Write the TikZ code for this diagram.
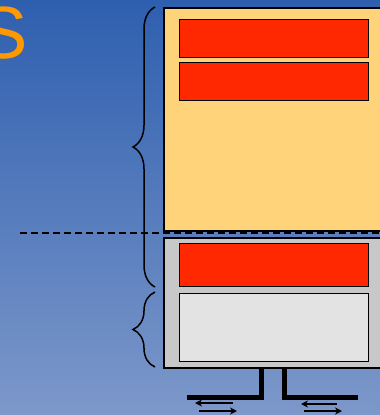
\documentclass[tikz,border=0pt]{standalone}
\usepackage{xcolor}
\usepackage{fontspec}
\newfontfamily\titlefont{Liberation Sans}
\usetikzlibrary{arrows.meta, positioning, calc, decorations.pathreplacing}

\definecolor{bgtop}{HTML}{2E5FAF}
\definecolor{bgbot}{HTML}{7D98CA}
\definecolor{titleorange}{HTML}{FF9900}
\definecolor{memyellow}{HTML}{FFD37A}
\definecolor{memred}{HTML}{FF2800}
\definecolor{memgray}{HTML}{C8C8C8}
\definecolor{memlight}{HTML}{E3E3E3}

\begin{document}
\begin{tikzpicture}[
    x=1pt, y=-1pt,
    region/.style={rectangle, draw=black, line width=1.8pt, anchor=north west, inner sep=0pt},
    slot/.style={rectangle, draw=black, line width=1.3pt, anchor=north west, inner sep=0pt, minimum width=189pt},
    brc/.style={decorate, decoration={brace, amplitude=22pt}, line width=1.5pt},
    pipe/.style={line width=5pt, line cap=butt},
    flow/.style={-{Stealth[length=7pt, width=7pt]}, line width=1.8pt}
]
\useasboundingbox (0,0) rectangle (380,415);
\clip (0,0) rectangle (380,415);
\shade[top color=bgtop, bottom color=bgbot] (0,0) rectangle (380,415);

% title letter
\node[anchor=base east, inner sep=0pt, text=titleorange, font=\titlefont\fontsize{74}{74}\selectfont] (title) at (28,58) {S};

% upper region
\node[region, fill=memyellow, minimum width=232pt, minimum height=223pt] (upper) at (163,7) {};
\node[slot, fill=memred, minimum height=38pt] (red_a) at (179,19) {};
\node[slot, fill=memred, minimum height=38pt, below=3.7pt of red_a.south west, anchor=north west] (red_b) {};

% divider
\coordinate (div_l) at (20,233);
\coordinate (div_r) at (382,233);
\draw[line width=1.8pt, dash pattern=on 7pt off 4pt] (div_l) -- (div_r);

% lower region
\node[region, fill=memgray, minimum width=232pt, minimum height=130pt] (lower) at (163,237) {};
\node[slot, fill=memred, minimum height=43pt] (red_c) at (179,243) {};
\node[slot, fill=memlight, minimum height=68pt, below=5.7pt of red_c.south west, anchor=north west] (io) {};

% braces
\draw[brc] (155,287) -- (155,7);
\draw[brc] (155,367) -- (155,292);

% pipes
\coordinate (pl_top) at (261,367);
\coordinate (pl_bend) at (261,397);
\coordinate (pl_end) at (187,397);
\coordinate (pr_top) at (284,367);
\coordinate (pr_bend) at (284,397);
\coordinate (pr_end) at (358,397);
\draw[pipe] (pl_top) -- (pl_bend) -- (pl_end);
\draw[pipe] (pr_top) -- (pr_bend) -- (pr_end);

% transfer arrows
\coordinate (la_in_s) at (233,403);
\coordinate (la_in_e) at (195,403);
\coordinate (la_out_s) at (199,411);
\coordinate (la_out_e) at (237,411);
\coordinate (ra_in_s) at (337,404);
\coordinate (ra_in_e) at (301,404);
\coordinate (ra_out_s) at (304,411);
\coordinate (ra_out_e) at (342,411);
\draw[flow] (la_in_s) -- (la_in_e);
\draw[flow] (la_out_s) -- (la_out_e);
\draw[flow] (ra_in_s) -- (ra_in_e);
\draw[flow] (ra_out_s) -- (ra_out_e);

\end{tikzpicture}
\end{document}
